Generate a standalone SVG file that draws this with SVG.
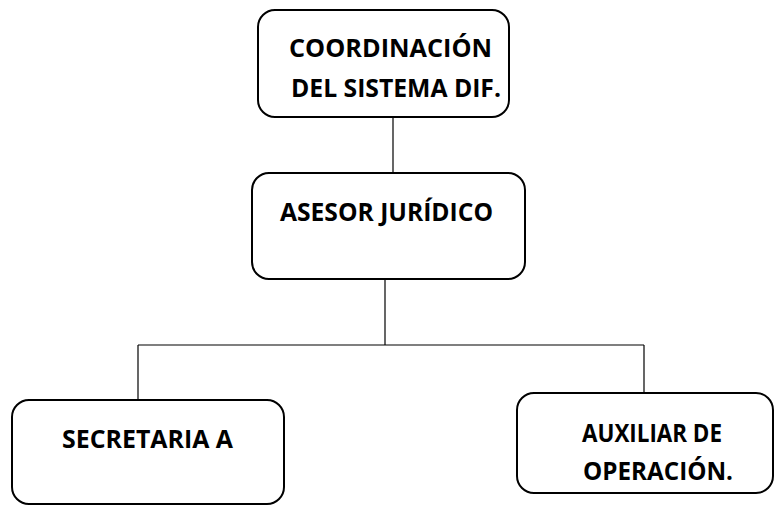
<svg xmlns="http://www.w3.org/2000/svg" width="775" height="506" viewBox="0 0 775 506">
<style>
.box{fill:#fff;stroke:#000;stroke-width:2}
.t{font-family:"Open Sans","Liberation Sans",Arial,sans-serif;font-weight:bold;font-size:25px;fill:#000}
.c{stroke:#000;stroke-width:1.2;fill:none}
</style>
<rect width="775" height="506" fill="#fff"/>
<g id="connectors">
<line class="c" x1="393" y1="117" x2="393" y2="173"/>
<line class="c" x1="385" y1="279" x2="385" y2="345"/>
<line class="c" x1="138" y1="345" x2="644" y2="345"/>
<line class="c" x1="138" y1="345" x2="138" y2="400"/>
<line class="c" x1="644" y1="345" x2="644" y2="393"/>
</g>
<g id="coordinacion">
<rect class="box" x="258" y="10" width="251" height="107" rx="17"/>
<text class="t" x="289" y="57" textLength="203" lengthAdjust="spacingAndGlyphs">COORDINACIÓN</text>
<text class="t" x="291" y="97" textLength="210" lengthAdjust="spacingAndGlyphs">DEL SISTEMA DIF.</text>
</g>
<g id="asesor">
<rect class="box" x="252" y="173" width="273" height="106" rx="17"/>
<text class="t" x="280" y="221" textLength="213" lengthAdjust="spacingAndGlyphs">ASESOR JURÍDICO</text>
</g>
<g id="secretaria">
<rect class="box" x="12" y="400" width="272" height="104" rx="17"/>
<text class="t" x="62" y="448" textLength="171" lengthAdjust="spacingAndGlyphs">SECRETARIA A</text>
</g>
<g id="auxiliar">
<rect class="box" x="517" y="393" width="256" height="100" rx="17"/>
<text class="t" x="582" y="442" textLength="140" lengthAdjust="spacingAndGlyphs">AUXILIAR DE</text>
<text class="t" x="583" y="480" textLength="150" lengthAdjust="spacingAndGlyphs">OPERACIÓN.</text>
</g>
</svg>
